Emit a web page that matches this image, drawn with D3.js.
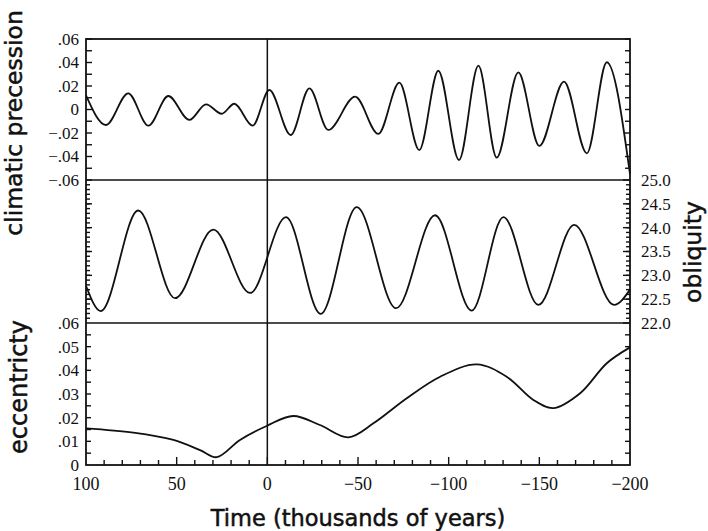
<!DOCTYPE html>
<html>
<head>
<meta charset="utf-8">
<script src="https://cdn.jsdelivr.net/npm/d3@7"></script>
<style>
  html, body { margin: 0; padding: 0; background: #fff; }
  svg { display: block; }
  .ticklabel { font-family: "Liberation Serif", "Times New Roman", serif; fill: #111; }
  .label { font-family: "DejaVu Sans", sans-serif; fill: #111; stroke: #111; stroke-width: 0.5; }
</style>
</head>
<body>
<svg id="chart" width="708" height="531"></svg>
<script>
// ---- data (time in thousands of years; positive = past, negative = future) ----
const precTime  = [100, 89, 76.7, 65.6, 54.6, 43.0, 33.8, 25.2, 18.2, 8.1, -1.1, -12.9, -23.2, -33.6, -48.4, -61.2, -72.8, -83.8, -94.3, -105.7, -116.4, -126.5, -138.4, -150, -163.6, -176.2, -187.2, -200];
const precValue = [0.012, -0.0132, 0.0138, -0.0138, 0.0115, -0.0089, 0.0044, -0.0036, 0.0049, -0.0138, 0.0166, -0.0217, 0.018, -0.0174, 0.0109, -0.0208, 0.0228, -0.0345, 0.033, -0.043, 0.0373, -0.041, 0.0316, -0.031, 0.0237, -0.0373, 0.0402, -0.055];

const obliqTime  = [100, 91.9, 71.2, 50.9, 29.8, 9.5, -10.3, -29.4, -49.3, -71, -92.5, -112.7, -130.2, -149.5, -169.2, -191.2, -200];
const obliqValue = [22.78, 22.25, 24.36, 22.52, 23.96, 22.63, 24.22, 22.19, 24.43, 22.31, 24.26, 22.26, 24.22, 22.38, 24.06, 22.38, 22.7];

const eccTime  = [100, 73.9, 51.8, 37.1, 27.9, 15.1, 0.4, -14.3, -29, -44.7, -58.5, -76.9, -95.3, -115.5, -132, -146.7, -157.7, -172.5, -187.2, -200];
const eccValue = [0.0155, 0.0137, 0.0106, 0.0063, 0.0033, 0.0106, 0.0165, 0.0207, 0.0169, 0.0117, 0.0176, 0.0282, 0.0373, 0.0425, 0.0373, 0.0275, 0.024, 0.0303, 0.043, 0.0497];

const timeTicks  = [100, 50, 0, -50, -100, -150, -200];
const precTicks  = [0.06, 0.04, 0.02, 0, -0.02, -0.04, -0.06];
const obliqTicks = [25.0, 24.5, 24.0, 23.5, 23.0, 22.5, 22.0];
const eccTicks   = [0.06, 0.05, 0.04, 0.03, 0.02, 0.01, 0];

// ---- layout ----
const svg = d3.select("#chart");
const L = 86, R = 630;
const panels = [
  { top: 39,  bottom: 180 },
  { top: 180, bottom: 323 },
  { top: 323, bottom: 465 }
];

const x = d3.scaleLinear().domain([100, -200]).range([L, R]);
const yPrec  = d3.scaleLinear().domain([-0.06, 0.06]).range([panels[0].bottom, panels[0].top]);
const yObliq = d3.scaleLinear().domain([22, 25]).range([panels[1].bottom, panels[1].top]);
const yEcc   = d3.scaleLinear().domain([0, 0.06]).range([panels[2].bottom, panels[2].top]);

const minus = s => s.replace("-", "\u2212");
const fmtDot = v => Math.abs(v) < 1e-9 ? "0" : minus((v < 0 ? "-" : "") + Math.abs(v).toFixed(2).replace(/^0/, ""));
const fmtObl = v => v.toFixed(1);
const fmtTime = v => minus(String(v));

const tickG = svg.append("g").attr("stroke", "#111").attr("stroke-width", 1.4);
// vertical-axis ticks: edge x, direction (+1 right, -1 left), length
function yTicks(vals, scale, edge, dir, len) {
  tickG.append("g").selectAll("line").data(vals).join("line")
    .attr("x1", edge).attr("x2", edge + dir * len)
    .attr("y1", d => scale(d)).attr("y2", d => scale(d));
}
function xTicks(vals, edge, len) {
  tickG.append("g").selectAll("line").data(vals).join("line")
    .attr("y1", edge).attr("y2", edge - len)
    .attr("x1", d => x(d)).attr("x2", d => x(d));
}
function yLabels(vals, scale, xPos, anchor, fmt, size) {
  svg.append("g").selectAll("text").data(vals).join("text")
    .attr("class", "ticklabel")
    .attr("x", xPos).attr("y", d => scale(d)).attr("dy", "0.35em")
    .attr("text-anchor", anchor).style("font-size", size + "px")
    .text(fmt);
}

// Top panel (precession)
yTicks(d3.range(-6, 7).map(i => i * 0.01), yPrec, L, 1, 6);
yTicks(d3.range(-5, 7).map(i => i * 0.01), yPrec, R, -1, 5);
yLabels(precTicks, yPrec, 79, "end", fmtDot, 17);

// Middle panel (obliquity)
yTicks(d3.range(221, 250).map(i => i / 10), yObliq, L, 1, 4);
yTicks(d3.range(221, 250).map(i => i / 10), yObliq, R, -1, 4);
yTicks(obliqTicks, yObliq, R, -1, 7);
yTicks(obliqTicks.slice(1, -1), yObliq, L, 1, 6);
yLabels(obliqTicks, yObliq, 641, "start", fmtObl, 17);

// Bottom panel (eccentricity)
yTicks(d3.range(1, 12).map(i => i * 0.005), yEcc, L, 1, 5);
yTicks(d3.range(1, 12).map(i => i * 0.005), yEcc, R, -1, 5);
yLabels(eccTicks, yEcc, 79, "end", fmtDot, 17);

// Time axis
xTicks(d3.range(9, -20, -1).map(i => i * 10).filter(v => v % 50 !== 0), panels[2].bottom, 5);
xTicks(timeTicks.slice(1, -1), panels[2].bottom, 8);
svg.append("g").selectAll("text").data(timeTicks).join("text")
  .attr("class", "ticklabel")
  .attr("x", d => x(d)).attr("y", 490)
  .attr("text-anchor", "middle").style("font-size", "18px")
  .text(fmtTime);

// Frame and dividers
svg.append("rect").attr("x", L).attr("y", panels[0].top).attr("width", R - L).attr("height", panels[2].bottom - panels[0].top)
  .attr("fill", "none").attr("stroke", "#111").attr("stroke-width", 1.8);
[panels[0].bottom, panels[1].bottom].forEach(yy => {
  svg.append("line").attr("x1", L).attr("x2", R).attr("y1", yy).attr("y2", yy).attr("stroke", "#111").attr("stroke-width", 1.6);
});
svg.append("line").attr("x1", x(0)).attr("x2", x(0)).attr("y1", panels[0].top).attr("y2", panels[2].bottom)
  .attr("stroke", "#111").attr("stroke-width", 1.5);

// Clip paths
const defs = svg.append("defs");
panels.forEach((p, i) => {
  defs.append("clipPath").attr("id", "clip" + i).append("rect")
    .attr("x", L).attr("y", p.top - 1).attr("width", R - L + 2).attr("height", p.bottom - p.top + 2);
});

function drawCurve(times, values, yScale, clipIdx, curve) {
  const data = times.map((t, i) => [t, values[i]]);
  svg.append("path").datum(data)
    .attr("clip-path", `url(#clip${clipIdx})`)
    .attr("fill", "none").attr("stroke", "#111").attr("stroke-width", 1.8)
    .attr("d", d3.line().x(d => x(d[0])).y(d => yScale(d[1])).curve(curve));
}
drawCurve(precTime, precValue, yPrec, 0, d3.curveMonotoneX);
drawCurve(obliqTime, obliqValue, yObliq, 1, d3.curveMonotoneX);
drawCurve(eccTime, eccValue, yEcc, 2, d3.curveCatmullRom.alpha(0.5));

// Axis titles
svg.append("text").attr("class", "label").attr("transform", "translate(22,123) rotate(-90)")
  .attr("text-anchor", "middle").style("font-size", "23.5px").text("climatic precession");
svg.append("text").attr("class", "label").attr("transform", "translate(27,387) rotate(-90)")
  .attr("text-anchor", "middle").style("font-size", "24px").text("eccentricty");
svg.append("text").attr("class", "label").attr("transform", "translate(701,252) rotate(-90)")
  .attr("text-anchor", "middle").style("font-size", "23.5px").text("obliquity");
svg.append("text").attr("class", "label").attr("x", 358).attr("y", 526)
  .attr("text-anchor", "middle").style("font-size", "22.5px").text("Time (thousands of years)");
</script>
</body>
</html>
